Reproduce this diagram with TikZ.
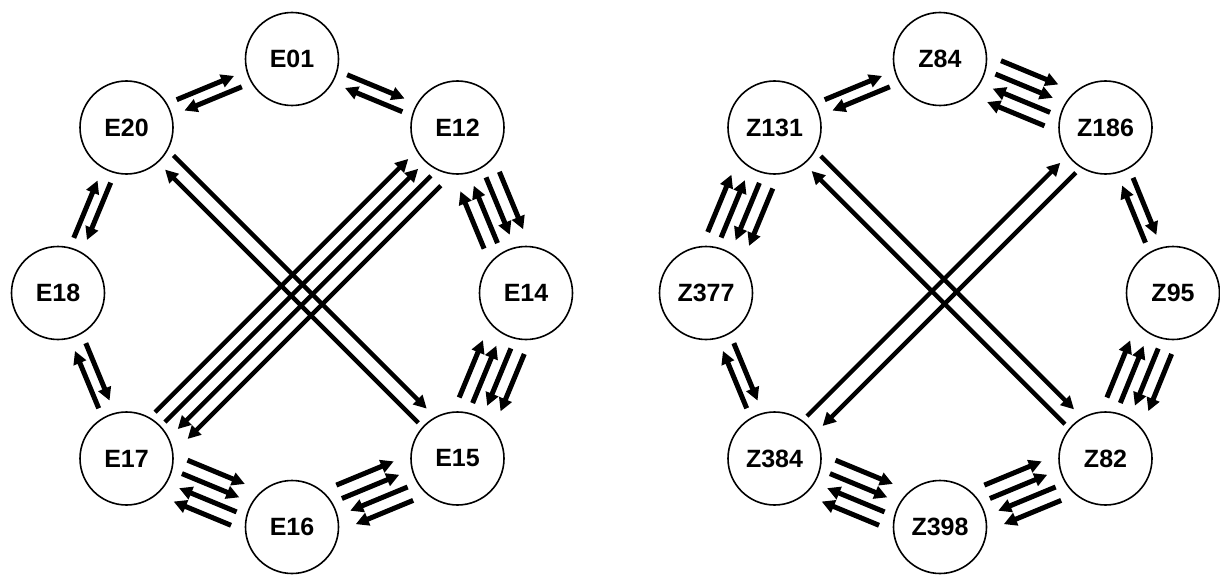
\documentclass[tikz,border=0pt]{standalone}
\usepackage{fontspec}
\setmainfont{Liberation Sans}
\usetikzlibrary{arrows.meta,calc}

\tikzset{
  state/.style={circle, draw, line width=1.6pt, minimum size=93pt, inner sep=0pt,
    font=\fontsize{25}{30}\selectfont\bfseries},
  ringarrow/.style={line width=5pt, -{Triangle[length=13pt,width=13pt]}},
  crossarrow/.style={line width=4.4pt, -{Triangle[length=13pt,width=13pt]}},
}

% arrow from #2 to #3, shifted #4 to the left of its direction,
% starting #5 from the centre of #2 and ending #6 from the centre of #3
\newcommand\flowlink[6]{%
  \path ($(#2)!#4!90:(#3)$) coordinate (cs) ($(#3)!#4!-90:(#2)$) coordinate (ct);
  \draw[#1] ($(cs)!#5!(ct)$) -- ($(ct)!#6!(cs)$);
}
\newcommand\ringlink[3]{\flowlink{ringarrow}{#1}{#2}{#3}{57pt}{60pt}}
\newcommand\crosslink[3]{\flowlink{crossarrow}{#1}{#2}{#3}{53pt}{57pt}}

\begin{document}
\begin{tikzpicture}[x=1pt,y=-1pt]
\useasboundingbox (0,0) rectangle (1220,575);

% ---- E ring ----
\node[state] (e01) at (292,59)      {E01};
\node[state] (e12) at (457.5,127.5) {E12};
\node[state] (e14) at (526,293)     {E14};
\node[state] (e15) at (457.5,458.5) {E15};
\node[state] (e16) at (292,527)     {E16};
\node[state] (e17) at (126.5,458.5) {E17};
\node[state] (e18) at (58,293)      {E18};
\node[state] (e20) at (126.5,127.5) {E20};

\ringlink{e20}{e01}{6.5pt}   \ringlink{e01}{e20}{6.5pt}
\ringlink{e01}{e12}{6.5pt}   \ringlink{e12}{e01}{6.5pt}
\ringlink{e12}{e14}{7.25pt}  \ringlink{e12}{e14}{21.75pt}
\ringlink{e14}{e12}{7.25pt}  \ringlink{e14}{e12}{21.75pt}
\ringlink{e14}{e15}{7.25pt}  \ringlink{e14}{e15}{21.75pt}
\ringlink{e15}{e14}{7.25pt}  \ringlink{e15}{e14}{21.75pt}
\ringlink{e15}{e16}{7.25pt}  \ringlink{e15}{e16}{21.75pt}
\ringlink{e16}{e15}{7.25pt}  \ringlink{e16}{e15}{21.75pt}
\ringlink{e16}{e17}{7.25pt}  \ringlink{e16}{e17}{21.75pt}
\ringlink{e17}{e16}{7.25pt}  \ringlink{e17}{e16}{21.75pt}
\ringlink{e17}{e18}{6.5pt}   \ringlink{e18}{e17}{6.5pt}
\ringlink{e18}{e20}{6.5pt}   \ringlink{e20}{e18}{6.5pt}

\crosslink{e20}{e15}{13.5pt} \crosslink{e15}{e20}{2.5pt}
\crosslink{e17}{e12}{12.6pt} \crosslink{e17}{e12}{-1.4pt}
\crosslink{e12}{e17}{15.4pt} \crosslink{e12}{e17}{29.4pt}

% ---- Z ring ----
\node[state] (z84)  at (940,59)      {Z84};
\node[state] (z186) at (1105.5,127.5) {Z186};
\node[state] (z95)  at (1173,293)    {Z95};
\node[state] (z82)  at (1105.5,458.5) {Z82};
\node[state] (z398) at (940,527)     {Z398};
\node[state] (z384) at (774.5,458.5) {Z384};
\node[state] (z377) at (706,293)     {Z377};
\node[state] (z131) at (774.5,127.5) {Z131};

\ringlink{z131}{z84}{6.5pt}   \ringlink{z84}{z131}{6.5pt}
\ringlink{z84}{z186}{7.25pt}  \ringlink{z84}{z186}{21.75pt}
\ringlink{z186}{z84}{7.25pt}  \ringlink{z186}{z84}{21.75pt}
\ringlink{z186}{z95}{6.5pt}   \ringlink{z95}{z186}{6.5pt}
\ringlink{z95}{z82}{7.25pt}   \ringlink{z95}{z82}{21.75pt}
\ringlink{z82}{z95}{7.25pt}   \ringlink{z82}{z95}{21.75pt}
\ringlink{z82}{z398}{7.25pt}  \ringlink{z82}{z398}{21.75pt}
\ringlink{z398}{z82}{7.25pt}  \ringlink{z398}{z82}{21.75pt}
\ringlink{z398}{z384}{7.25pt} \ringlink{z398}{z384}{21.75pt}
\ringlink{z384}{z398}{7.25pt} \ringlink{z384}{z398}{21.75pt}
\ringlink{z384}{z377}{6.5pt}  \ringlink{z377}{z384}{6.5pt}
\ringlink{z377}{z131}{7.25pt} \ringlink{z377}{z131}{21.75pt}
\ringlink{z131}{z377}{7.25pt} \ringlink{z131}{z377}{21.75pt}

\crosslink{z131}{z82}{12.5pt} \crosslink{z82}{z131}{4.5pt}
\crosslink{z384}{z186}{7pt}   \crosslink{z186}{z384}{11pt}
\end{tikzpicture}
\end{document}
